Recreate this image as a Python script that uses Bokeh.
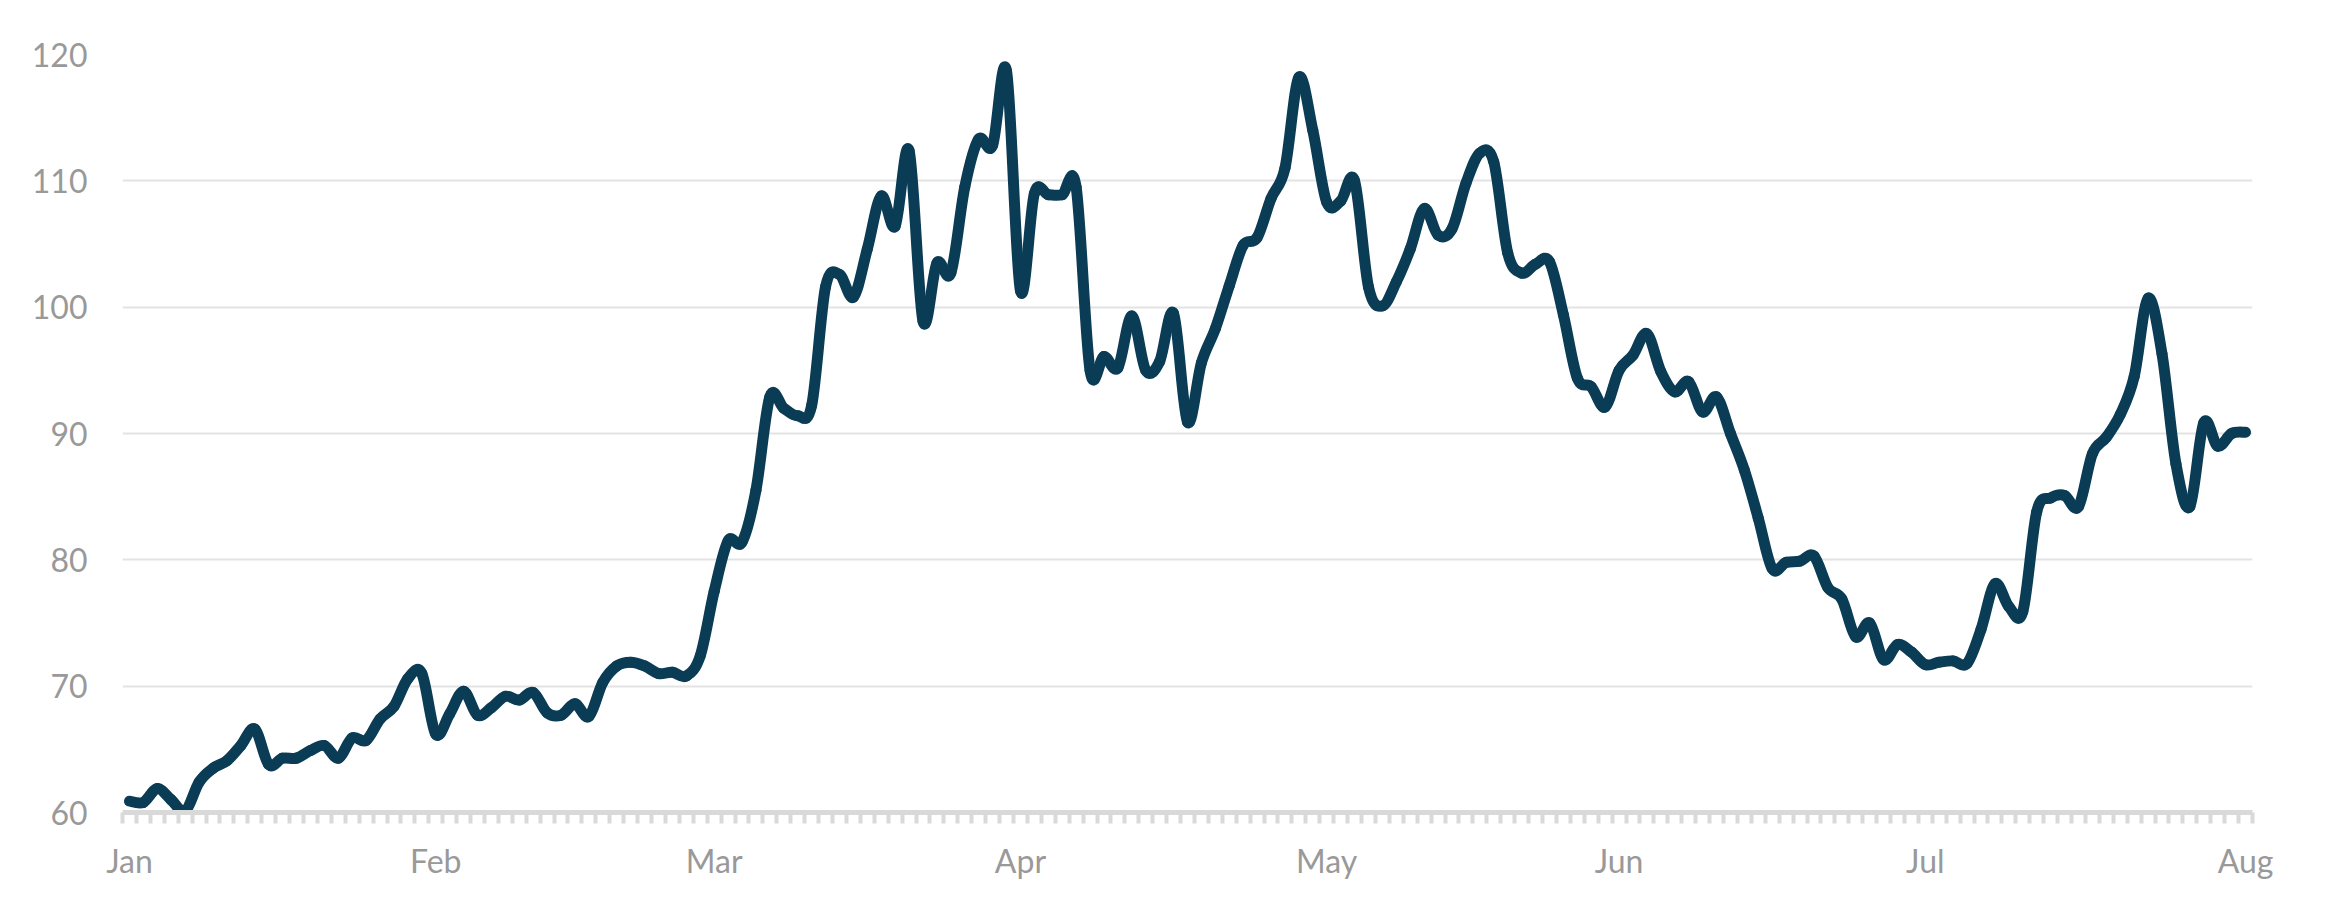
import pandas as pd
from bokeh.plotting import figure
from bokeh.models import Range1d, FixedTicker, ColumnDataSource
from bokeh.embed import file_html
from bokeh.resources import INLINE

# Daily (business-day) index values, Jan 2 .. Aug 3
values = [
    60.9, 60.8, 61.9, 61.0, 60.1, 62.4, 63.5, 64.1, 65.3, 66.6,
    63.8, 64.3, 64.3, 64.9, 65.3, 64.3, 65.9, 65.7, 67.4, 68.4,
    70.6, 71.0, 66.2, 67.8, 69.6, 67.7, 68.3, 69.2, 68.9, 69.5,
    67.9, 67.7, 68.6, 67.6, 70.3, 71.6, 71.9, 71.6, 71.0, 71.1,
    70.8, 72.4, 77.5, 81.5, 81.4, 85.5, 92.9, 92.0, 91.4, 92.2,
    101.6, 102.6, 100.8, 104.6, 108.8, 106.4, 112.4, 98.9, 103.5, 102.7,
    109.5, 113.3, 112.8, 118.7, 101.3, 109.0, 108.9, 108.9, 109.5, 95.0,
    96.1, 95.2, 99.3, 95.0, 95.7, 99.5, 90.9, 95.6, 98.3, 101.7,
    104.9, 105.5, 108.6, 111.0, 118.2, 114.0, 108.3, 108.4, 110.0, 101.6,
    100.1, 102.0, 104.6, 107.8, 105.7, 106.2, 109.8, 112.2, 111.5, 104.3,
    102.7, 103.4, 103.6, 99.4, 94.4, 93.7, 92.1, 95.0, 96.2, 97.9,
    94.9, 93.3, 94.1, 91.7, 92.9, 90.0, 87.1, 83.3, 79.3, 79.8,
    79.9, 80.3, 77.8, 76.9, 73.9, 75.0, 72.1, 73.3, 72.7, 71.7,
    71.9, 72.0, 71.8, 74.5, 78.1, 76.3, 75.9, 83.8, 84.9, 85.1,
    84.2, 88.4, 89.7, 91.5, 94.5, 100.7, 96.3, 87.6, 84.2, 90.85,
    89.0, 90.0, 90.1,
]
dates = pd.bdate_range("2020-01-02", periods=len(values))
y_ticks = [60, 70, 80, 90, 100, 110, 120]

# month tick labels at the first trading day of each month
month_idx = [i for i in range(len(dates)) if i == 0 or dates[i].month != dates[i - 1].month]
month_labels = [dates[i].strftime("%b") for i in month_idx]

n = len(values)
x = list(range(n))

# smoothed line (like a spreadsheet "smoothed line"): one cubic Bezier per
# pair of neighbouring data points, controls from the neighbouring points
seg = dict(x0=[], y0=[], x1=[], y1=[], cx0=[], cy0=[], cx1=[], cy1=[])
for i in range(n - 1):
    xa, ya = x[i], values[i]
    xb, yb = x[i + 1], values[i + 1]
    xp, yp = (x[i - 1], values[i - 1]) if i > 0 else (xa, ya)
    xn, yn = (x[i + 2], values[i + 2]) if i + 2 < n else (xb, yb)
    seg["x0"].append(xa); seg["y0"].append(ya)
    seg["x1"].append(xb); seg["y1"].append(yb)
    seg["cx0"].append(xa + (xb - xp) / 6.0); seg["cy0"].append(ya + (yb - yp) / 6.0)
    seg["cx1"].append(xb - (xn - xa) / 6.0); seg["cy1"].append(yb - (yn - ya) / 6.0)
src = ColumnDataSource(seg)

p = figure(
    frame_width=2130, frame_height=758,
    min_border_left=122, min_border_top=54, min_border_right=60, min_border_bottom=80,
    output_backend="svg", toolbar_location=None,
    x_range=Range1d(-0.5, n - 0.5), y_range=Range1d(60, 120),
)
p.outline_line_color = None
p.background_fill_color = "white"
p.border_fill_color = "white"

p.bezier(x0="x0", y0="y0", x1="x1", y1="y1", cx0="cx0", cy0="cy0",
         cx1="cx1", cy1="cy1", source=src, line_color="#0b3c55",
         line_width=11, line_cap="round", line_join="round")

# y axis
p.yaxis.ticker = FixedTicker(ticks=y_ticks)
p.yaxis.axis_line_color = None
p.yaxis.major_tick_line_color = None
p.yaxis.minor_tick_line_color = None
p.yaxis.major_tick_out = 0
p.yaxis.major_tick_in = 0
p.yaxis.major_label_standoff = 35
p.yaxis.major_label_text_font = "Lato"
p.yaxis.major_label_text_font_size = "32px"
p.yaxis.major_label_text_color = "#999999"

# x axis
p.xaxis.ticker = FixedTicker(ticks=month_idx,
                             minor_ticks=[i - 0.5 for i in range(n + 1)])
p.xaxis.major_label_overrides = {i: l for i, l in zip(month_idx, month_labels)}
p.xaxis.axis_line_color = "#d9d9d9"
p.xaxis.axis_line_width = 5
p.xaxis.major_tick_line_color = None
p.xaxis.major_tick_out = 0
p.xaxis.major_tick_in = 0
p.xaxis.minor_tick_line_color = "#d9d9d9"
p.xaxis.minor_tick_line_width = 4
p.xaxis.minor_tick_out = 11
p.xaxis.minor_tick_in = 0
p.xaxis.major_label_standoff = 17
p.xaxis.major_label_text_font = "Lato"
p.xaxis.major_label_text_font_size = "32px"
p.xaxis.major_label_text_color = "#999999"

p.xgrid.grid_line_color = None
p.ygrid.grid_line_color = "#e3e3e3"
p.ygrid.grid_line_width = 2

open("out.html", "w").write(file_html(p, INLINE))
